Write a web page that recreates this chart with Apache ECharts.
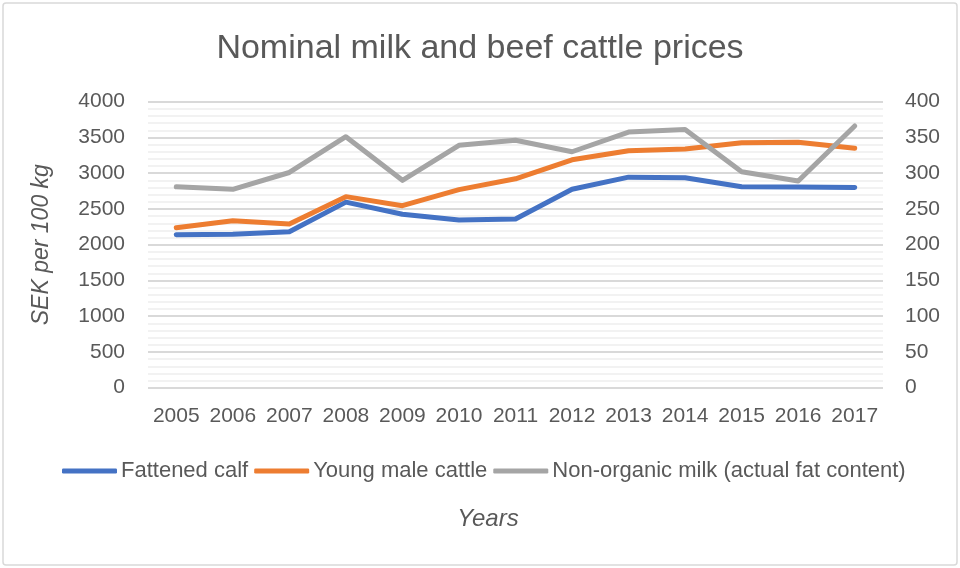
<!DOCTYPE html>
<html>
<head>
<meta charset="utf-8">
<script src="https://cdn.jsdelivr.net/npm/echarts@6/dist/echarts.min.js"></script>
<style>
html,body{margin:0;padding:0;background:#fff;}
#chart{width:960px;height:568px;}
</style>
</head>
<body>
<div id="chart"></div>
<script>
const years = ['2005','2006','2007','2008','2009','2010','2011','2012','2013','2014','2015','2016','2017'];
const fattenedCalf = [2140, 2145, 2180, 2595, 2425, 2345, 2360, 2775, 2945, 2937, 2810, 2808, 2800];
const youngMaleCattle = [2238, 2336, 2290, 2672, 2546, 2770, 2922, 3188, 3315, 3338, 3427, 3432, 3348];
const nonOrganicMilk = [281, 277.5, 301, 351, 290, 339, 346, 330, 357.5, 361, 302, 289, 366];
const seriesNames = ['Fattened calf', 'Young male cattle', 'Non-organic milk (actual fat content)'];

const FONT = 'Liberation Sans';
const TXT = '#595959';
const chart = echarts.init(document.getElementById('chart'), null, {renderer: 'canvas'});
const lineStyle = (c) => ({color: c, width: 5, cap: 'round', join: 'round'});
const plain = (v) => String(v);
chart.setOption({
  animation: false,
  backgroundColor: '#fff',
  color: ['#4472C4', '#ED7D31', '#A5A5A5'],
  title: {
    text: 'Nominal milk and beef cattle prices',
    left: 'center',
    top: 27,
    textStyle: {fontFamily: FONT, fontSize: 34, fontWeight: 'normal', color: TXT}
  },
  graphic: [{
    type: 'rect', shape: {x: 3, y: 3, width: 954, height: 562, r: 3},
    style: {fill: 'none', stroke: '#D9D9D9', lineWidth: 1.5}, silent: true, z: -1
  }],
  legend: {
    left: 57,
    top: 455,
    icon: 'roundRect',
    itemWidth: 55,
    itemHeight: 5,
    itemGap: 6,
    textStyle: {fontFamily: FONT, fontSize: 22, color: TXT, padding: [0, 0, 0, -1]},
    data: seriesNames
  },
  grid: {left: 148, right: 77, top: 101.7, bottom: 180.3, containLabel: false},
  xAxis: {
    type: 'category',
    data: years,
    boundaryGap: true,
    axisLine: {show: false},
    axisTick: {show: false},
    axisLabel: {fontFamily: FONT, fontSize: 21, color: TXT, margin: 18, interval: 0},
    name: 'Years',
    nameLocation: 'middle',
    nameGap: 120,
    nameTextStyle: {fontFamily: FONT, fontSize: 24, fontStyle: 'italic', color: TXT, padding: [0, 55, 0, 0]}
  },
  yAxis: [{
    type: 'value',
    min: 0, max: 4000, interval: 500,
    axisLine: {show: false},
    axisTick: {show: false},
    axisLabel: {fontFamily: FONT, fontSize: 21, color: TXT, margin: 23, formatter: plain},
    splitLine: {show: true, lineStyle: {color: '#D9D9D9', width: 2}},
    minorTick: {show: false, splitNumber: 5},
    minorSplitLine: {show: true, lineStyle: {color: '#F2F2F2', width: 2}},
    name: 'SEK per 100 kg',
    nameLocation: 'middle',
    nameGap: 95,
    nameRotate: 90,
    nameTextStyle: {fontFamily: FONT, fontSize: 23, fontStyle: 'italic', color: TXT}
  }, {
    type: 'value',
    min: 0, max: 400, interval: 50,
    position: 'right',
    axisLine: {show: false},
    axisTick: {show: false},
    splitLine: {show: false},
    axisLabel: {fontFamily: FONT, fontSize: 21, color: TXT, margin: 22, formatter: plain}
  }],
  series: [{
    name: seriesNames[0], type: 'line', data: fattenedCalf, yAxisIndex: 0,
    showSymbol: false, symbol: 'none', lineStyle: lineStyle('#4472C4')
  }, {
    name: seriesNames[1], type: 'line', data: youngMaleCattle, yAxisIndex: 0,
    showSymbol: false, symbol: 'none', lineStyle: lineStyle('#ED7D31')
  }, {
    name: seriesNames[2], type: 'line', data: nonOrganicMilk, yAxisIndex: 1,
    showSymbol: false, symbol: 'none', lineStyle: lineStyle('#A5A5A5')
  }]
});
</script>
</body>
</html>
